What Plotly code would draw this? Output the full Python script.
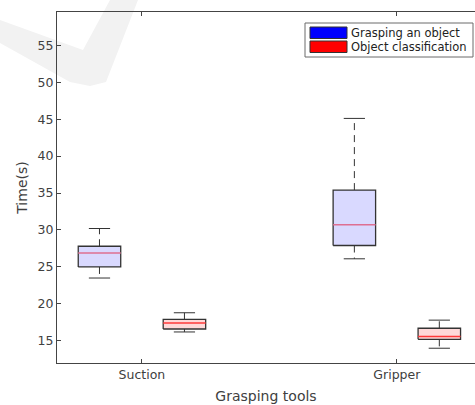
import plotly.graph_objects as go

# ---- data ----
groups = ["Suction", "Gripper"]
series = ["Grasping an object", "Object classification"]
lower_whisker = {"Grasping an object": [23.5, 26.1], "Object classification": [16.2, 14.0]}
q1 = {"Grasping an object": [25.0, 27.9], "Object classification": [16.6, 15.2]}
median = {"Grasping an object": [26.9, 30.7], "Object classification": [17.4, 15.6]}
q3 = {"Grasping an object": [27.8, 35.4], "Object classification": [17.9, 16.7]}
upper_whisker = {"Grasping an object": [30.2, 45.1], "Object classification": [18.8, 17.8]}
y_ticks = [15, 20, 25, 30, 35, 40, 45, 50, 55]

# ---- style ----
fill_col = {"Grasping an object": "#d9d9ff", "Object classification": "#ffd9d9"}
med_col = {"Grasping an object": "#de6f92", "Object classification": "#ff3a3a"}
legend_col = {"Grasping an object": "#0000ff", "Object classification": "#ff0000"}
edge = "#333333"
offsets = {"Grasping an object": -0.5, "Object classification": 0.5}
group_pos = [1.5, 4.5]
half_w = 0.25
cap_w = 0.125

L, T, R, B = 57, 12, 475, 363  # plot area in pixels
W, H = 475, 405

def to_paper(px, py):
    return (px - L) / (R - L), (B - py) / (B - T)

fig = go.Figure()

for s in series:
    for gi, g in enumerate(groups):
        c = group_pos[gi] + offsets[s]
        fig.add_trace(go.Scatter(
            x=[c, c, None, c, c], y=[q3[s][gi], upper_whisker[s][gi], None, q1[s][gi], lower_whisker[s][gi]],
            mode="lines", line=dict(color=edge, width=1, dash="7px,5px"),
            showlegend=False, hoverinfo="skip"))
        fig.add_trace(go.Scatter(
            x=[c - cap_w, c + cap_w, None, c - cap_w, c + cap_w],
            y=[upper_whisker[s][gi], upper_whisker[s][gi], None, lower_whisker[s][gi], lower_whisker[s][gi]],
            mode="lines", line=dict(color=edge, width=1),
            showlegend=False, hoverinfo="skip"))
        fig.add_trace(go.Scatter(
            x=[c - half_w, c + half_w, c + half_w, c - half_w, c - half_w],
            y=[q1[s][gi], q1[s][gi], q3[s][gi], q3[s][gi], q1[s][gi]],
            mode="lines", fill="toself", fillcolor=fill_col[s],
            line=dict(color=edge, width=1.3), showlegend=False, hoverinfo="skip"))
        fig.add_trace(go.Scatter(
            x=[c - half_w, c + half_w], y=[median[s][gi], median[s][gi]],
            mode="lines", line=dict(color=med_col[s], width=1.5),
            showlegend=False, hoverinfo="skip"))

# watermark
wm = [(0, 20), (83, 50), (110, 0), (138, 0), (106, 82), (90, 86), (70, 82), (0, 43)]
pts = [to_paper(*p) for p in wm]
path = "M " + " L ".join(f"{x:.4f},{y:.4f}" for x, y in pts) + " Z"
fig.add_shape(type="path", path=path, xref="paper", yref="paper",
              fillcolor="#f2f2f2", line=dict(width=0), layer="below")

# legend (drawn manually)
x0, y0 = to_paper(305, 23)
x1, y1 = to_paper(473, 57)
fig.add_shape(type="rect", xref="paper", yref="paper", x0=x0, y0=y0, x1=x1, y1=y1,
              fillcolor="white", line=dict(color="#6a6a6a", width=1))
for i, s in enumerate(series):
    top = 27 + i * 14
    sx0, sy0 = to_paper(310, top)
    sx1, sy1 = to_paper(347, top + 11.5)
    fig.add_shape(type="rect", xref="paper", yref="paper", x0=sx0, y0=sy0, x1=sx1, y1=sy1,
                  fillcolor=legend_col[s], line=dict(color="#333333", width=1))
    tx, ty = to_paper(349, top + 6)
    fig.add_annotation(x=tx, y=ty, xref="paper", yref="paper", text=s, showarrow=False,
                       xanchor="left", yanchor="middle", font=dict(size=11.5, color="#222222"))

font_fam = "DejaVu Sans"
fig.update_layout(
    width=W, height=H,
    margin=dict(l=L, r=W - R, t=T, b=H - B),
    paper_bgcolor="white", plot_bgcolor="rgba(0,0,0,0)",
    font=dict(family=font_fam, size=12.5, color="#404040"),
    showlegend=False,
    xaxis=dict(range=[0.5, 5.42], tickvals=group_pos, ticktext=groups,
               showline=True, linecolor="#444444", linewidth=1, mirror="ticks",
               ticks="inside", ticklen=4, tickcolor="#444444",
               showgrid=False, zeroline=False,
               title=dict(text="Grasping tools", font=dict(size=14, color="#404040"), standoff=10)),
    yaxis=dict(range=[12, 59.5], tickvals=y_ticks,
               showline=True, linecolor="#444444", linewidth=1,
               ticks="inside", ticklen=4, tickcolor="#444444",
               showgrid=False, zeroline=False,
               title=dict(text="Time(s)", font=dict(size=14, color="#404040"), standoff=6)),
)

fig.write_html("out.html", config={"displayModeBar": False},
               post_script="document.body.style.margin='0';document.body.style.overflow='hidden';")
